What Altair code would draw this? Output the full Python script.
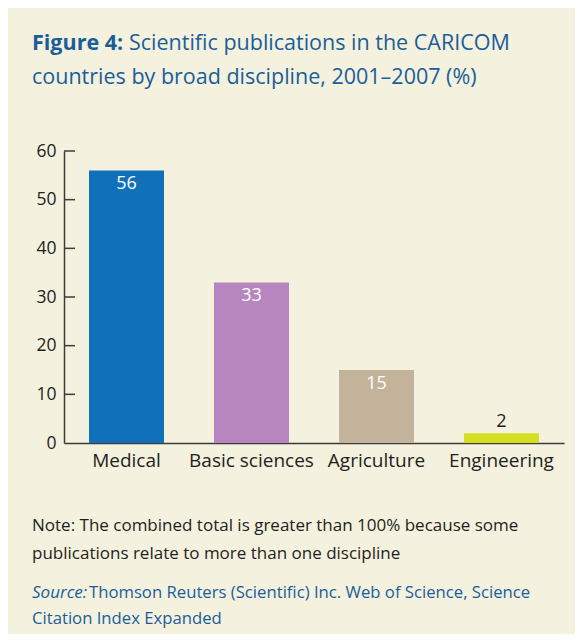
import altair as alt
import pandas as pd

categories = ["Medical", "Basic sciences", "Agriculture", "Engineering"]
values = [56, 33, 15, 2]
colors = ["#1170BA", "#B886BE", "#C4B39B", "#D5DF22"]
y_ticks = [0, 10, 20, 30, 40, 50, 60]

title_bold = "Figure 4:"
title_line1 = "Scientific publications in the CARICOM"
title_line2 = "countries by broad discipline, 2001\u20132007 (%)"
note_lines = ["Note: The combined total is greater than 100% because some",
              "publications relate to more than one discipline"]
source_label = "Source:"
source_lines = ["Thomson Reuters (Scientific) Inc. Web of Science, Science",
                "Citation Index Expanded"]

FONT = "Open Sans"
BLUE_TXT = "#1A5E99"
DARK = "#231F20"
AXIS = "#3C3C3C"

df = pd.DataFrame({"cat": categories, "val": values, "color": colors})
df["inside"] = df["val"] >= 10

ticks_df = pd.DataFrame({"t": [t for t in y_ticks if t > 0]})

x_enc = alt.X("cat:N", sort=categories, title=None,
              scale=alt.Scale(paddingInner=0.4, paddingOuter=0.2),
              axis=alt.Axis(labelAngle=0, labelFont=FONT, labelFontSize=19,
                            labelColor=DARK, ticks=False, labelPadding=8,
                            domainColor=AXIS, domainWidth=1.5))
y_scale = alt.Scale(domain=[0, 60])

bars = alt.Chart(df).mark_bar().encode(
    x=x_enc,
    y=alt.Y("val:Q", scale=y_scale, title=None,
            axis=alt.Axis(values=y_ticks, ticks=False, grid=False,
                          labelFont=FONT, labelFontSize=17.5, labelColor=DARK,
                          labelPadding=8, domainColor=AXIS, domainWidth=1.5)),
    color=alt.Color("color:N", scale=None),
)

lab_in = alt.Chart(df).transform_filter("datum.inside").mark_text(
    font=FONT, fontSize=18, baseline="middle", dy=14, color="white"
).encode(x=alt.X("cat:N", sort=categories), y=alt.Y("val:Q", scale=y_scale),
         text="val:Q")

lab_out = alt.Chart(df).transform_filter("!datum.inside").mark_text(
    font=FONT, fontSize=18, baseline="middle", dy=-11, color=DARK
).encode(x=alt.X("cat:N", sort=categories), y=alt.Y("val:Q", scale=y_scale),
         text="val:Q")

tick_marks = alt.Chart(ticks_df).mark_rule(color=AXIS, strokeWidth=1.5).encode(
    y=alt.Y("t:Q", scale=y_scale), x=alt.value(0), x2=alt.value(11))


def txt(s, x, y, size, color, weight="normal", style="normal"):
    return alt.Chart(pd.DataFrame({"s": [s]})).mark_text(
        font=FONT, fontSize=size, color=color, fontWeight=weight,
        fontStyle=style, align="left", baseline="middle"
    ).encode(x=alt.value(x), y=alt.value(y), text="s:N")


annotations = [
    txt(title_bold, -32, -107, 21.5, BLUE_TXT, weight="bold"),
    txt(title_line1, 65, -107, 21.5, BLUE_TXT),
    txt(title_line2, -32, -73, 21.5, BLUE_TXT),
    txt(note_lines[0], -32, 375, 17, DARK),
    txt(note_lines[1], -32, 403, 17, DARK),
    txt(source_label, -32, 442, 17, BLUE_TXT, style="italic"),
    txt(source_lines[0], 25, 442, 16.7, BLUE_TXT),
    txt(source_lines[1], -32, 468, 16.7, BLUE_TXT),
]

chart = alt.layer(bars, lab_in, lab_out, tick_marks, *annotations).properties(
    width=500, height=292,
    background="#F4F1DF",
    padding={"left": 56, "top": 143, "right": 11, "bottom": 191},
    autosize=alt.AutoSizeParams(type="none"),
).configure_view(stroke=None)

chart.save("out.html", embed_options={"renderer": "svg", "actions": False})
